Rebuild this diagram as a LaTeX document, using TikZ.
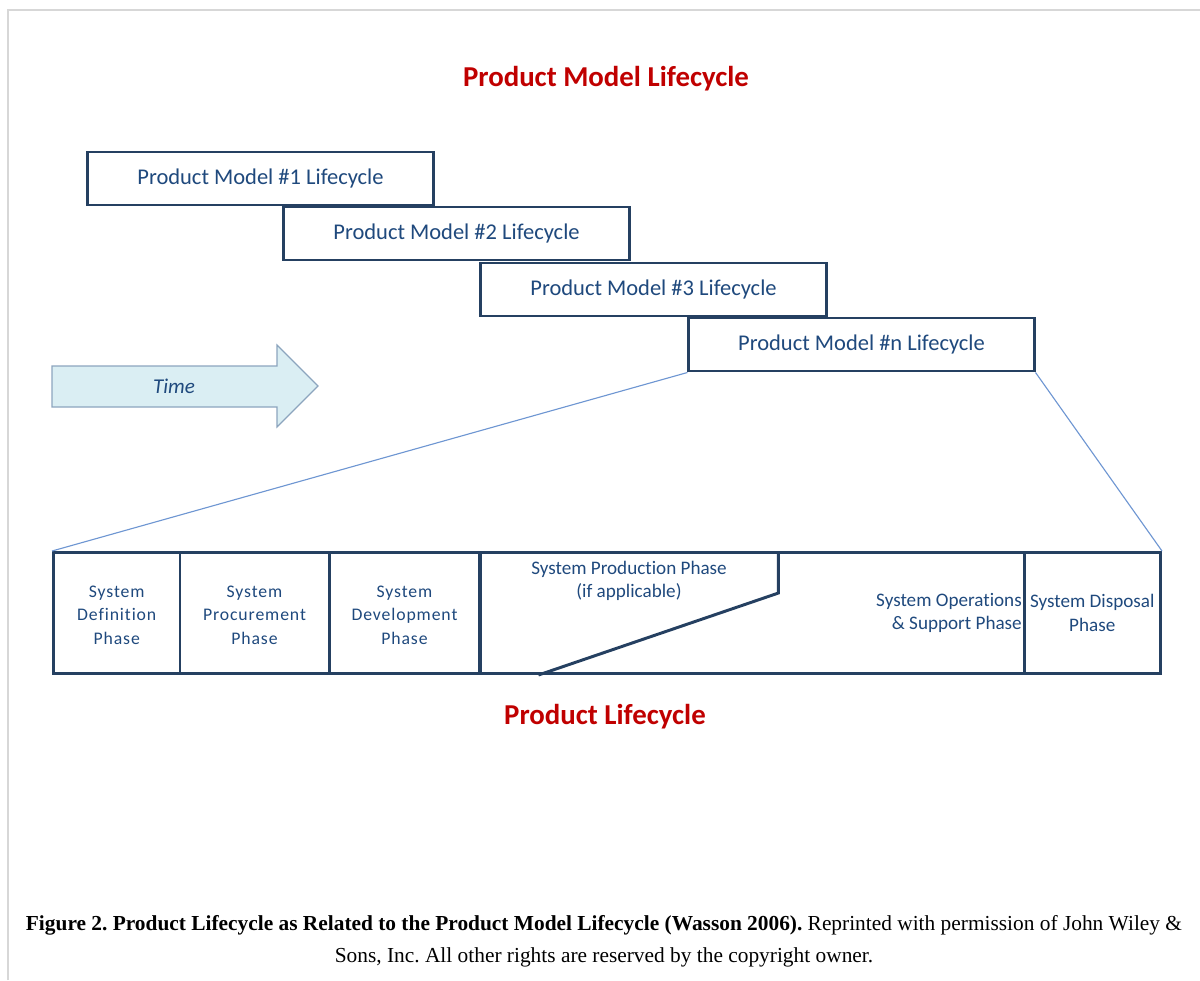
\documentclass[tikz,border=0pt]{standalone}
\usepackage{fontspec}
\setmainfont[Ligatures=NoCommon]{Carlito}
\newfontfamily\capfont{Liberation Serif}
\newfontfamily\cellfont[LetterSpace=5, Ligatures=NoCommon]{Carlito}
\usetikzlibrary{calc, positioning}
\definecolor{cNavy}{RGB}{ 37, 64, 97}
\definecolor{cTxt} {RGB}{ 31, 73,125}
\definecolor{cRed} {RGB}{192,  0,  0}
\definecolor{cAr}  {RGB}{218,238,243}
\definecolor{cArB} {RGB}{140,165,190}
\definecolor{cZm}  {RGB}{110,150,210}
\definecolor{cFr}  {RGB}{215,215,215}
\tikzset{
  pmbox/.style={
    rectangle, draw=cNavy, line width=2.1pt, fill=white,
    minimum width=8.625cm, minimum height=1.325cm,
    text=cTxt, font=\fontsize{16}{18}\selectfont, inner sep=0pt
  },
  cell/.style={
    rectangle, draw=cNavy, line width=2.1pt,
    minimum width=#1, minimum height=3.025cm, inner sep=0pt
  },
  ctext/.style={
    text=cTxt, align=center, inner sep=0pt,
    font=\cellfont\fontsize{12.6}{16.9}\selectfont
  },
  ptext/.style={
    text=cTxt, inner sep=0pt,
    font=\fontsize{13.6}{16.7}\selectfont
  },
  rtitle/.style={text=cRed, font=\bfseries\fontsize{20.5}{24}\selectfont},
  zl/.style={draw=cZm, line width=0.8pt},
  lc/.style={draw=cNavy, line width=2.1pt},
}
\begin{document}
\begin{tikzpicture}[x=0.025cm, y=-0.025cm]
\useasboundingbox (0,0) rectangle (1200,980);

%% -- frame ---------------------------------------------------------------
\draw[cFr, line width=1.4pt] (8,980) -- (8,10) -- (1200,10);

%% -- product model lifecycles -------------------------------------------
\node[rtitle] (ttl) at (606,79) {Product Model Lifecycle};

\node[pmbox] (pm1) at (260.5,178.5) {Product Model \#1 Lifecycle};
\node[pmbox] (pm2) at (456.5,233.5) {Product Model \#2 Lifecycle};
\node[pmbox] (pm3) at (653.5,289.5) {Product Model \#3 Lifecycle};
\node[pmbox] (pm4) at (861.5,344.5) {Product Model \#n Lifecycle};

%% -- time arrow ----------------------------------------------------------
\draw[fill=cAr, draw=cArB, line width=0.8pt]
  (52,366) -- (277,366) -- (277,345) -- (318,386) -- (277,427)
  -- (277,407) -- (52,407) -- cycle;
\node[text=cTxt, font=\itshape\fontsize{15}{18}\selectfont] (time) at (174,386) {Time};

%% -- product lifecycle phases --------------------------------------------
\node[cell=3.1625cm] (def)  at (116.75,613) {};
\node[cell=3.725cm]  (proc) at (254.5,613)  {};
\node[cell=3.775cm]  (dev)  at (404.5,613)  {};
\node[cell=13.6cm]   (ops)  at (752,613)    {};
\node[cell=3.4125cm] (disp) at (1092.25,613) {};

\node[ctext] at ([yshift=-1.5]def)  {System\\Definition\\Phase};
\node[ctext] at ([yshift=-1.5]proc) {System\\Procurement\\Phase};
\node[ctext] at ([yshift=-1.5]dev)  {System\\Development\\Phase};
\node[ptext, align=center] (prod) at (629,581) {System Production Phase\\(if applicable)};
\node[ptext, align=right, anchor=east] (opst) at (1022,613) {System Operations\\\& Support Phase};
\node[ptext, align=center] (dispt) at (disp) {System Disposal\\Phase};

%% production boundary
\draw[lc] ($(ops.north west)+(300,0)$) coordinate (pk) -- ++(0,42)
  -- ($(ops.south west)+(60,0)$);

%% -- zoom lines ----------------------------------------------------------
\draw[zl] (pm4.south west) -- (def.north west);
\draw[zl] (pm4.south east) -- (disp.north east);

\node[rtitle] (plc) at (605,717) {Product Lifecycle};

%% -- caption -------------------------------------------------------------
\node[align=center, font=\capfont\frenchspacing\fontsize{15.2}{22.5}\selectfont] (cap) at (604,941)
  {\textbf{Figure 2. Product Lifecycle as Related to the Product Model Lifecycle (Wasson 2006).} Reprinted with permission of John Wiley \&\\
   Sons, Inc. All other rights are reserved by the copyright owner.};

\end{tikzpicture}
\end{document}
